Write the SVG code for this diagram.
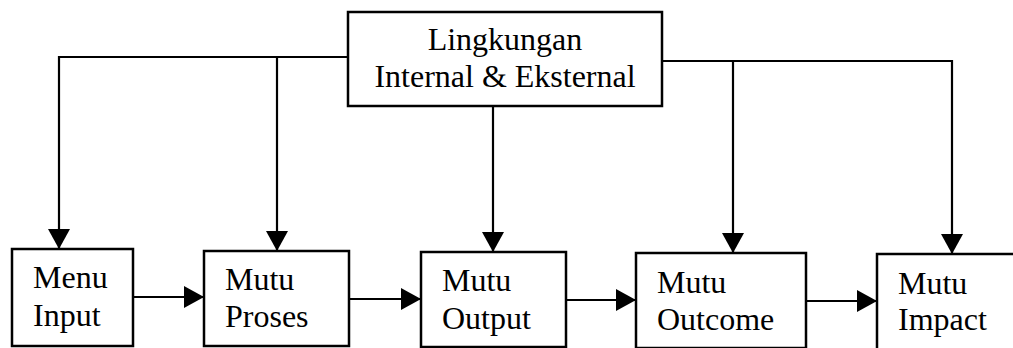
<svg xmlns="http://www.w3.org/2000/svg" width="1013" height="348" viewBox="0 0 1013 348">
  <style>
    .box { fill: #fff; stroke: #000; stroke-width: 2.5; }
    .lbl { font-family: "Liberation Serif", "Times New Roman", serif; font-size: 32px; fill: #000; }
    .wire { fill: none; stroke: #000; stroke-width: 2.2; }
  </style>
  <defs>
    <marker id="head" viewBox="0 0 20 22" markerWidth="20" markerHeight="22" refX="20" refY="11" orient="auto" markerUnits="userSpaceOnUse">
      <path d="M0,0 L20,11 L0,22 z" fill="#000"/>
    </marker>
  </defs>

  <rect width="1013" height="348" fill="#fff"/>

  <!-- connectors -->
  <g id="connectors" class="wire">
    <!-- environment feeds -->
    <polyline points="348,57 59,57 59,249" marker-end="url(#head)"/>
    <line x1="277" y1="57" x2="277" y2="251" marker-end="url(#head)"/>
    <line x1="493" y1="106" x2="493" y2="252" marker-end="url(#head)"/>
    <polyline points="662,61 952,61 952,254" marker-end="url(#head)"/>
    <line x1="733" y1="61" x2="733" y2="253" marker-end="url(#head)"/>
    <!-- quality chain -->
    <line x1="133" y1="297" x2="204" y2="297" marker-end="url(#head)"/>
    <line x1="349" y1="299" x2="421" y2="299" marker-end="url(#head)"/>
    <line x1="566" y1="300" x2="636" y2="300" marker-end="url(#head)"/>
    <line x1="806" y1="301" x2="877" y2="301" marker-end="url(#head)"/>
  </g>

  <g id="lingkungan">
    <rect class="box" x="348" y="12" width="314" height="94"/>
    <text class="lbl" x="505" y="50" text-anchor="middle">Lingkungan</text>
    <text class="lbl" x="505" y="87" text-anchor="middle">Internal &amp; Eksternal</text>
  </g>

  <g id="menu-input">
    <rect class="box" x="12" y="249" width="121" height="97"/>
    <text class="lbl" x="33" y="288">Menu</text>
    <text class="lbl" x="33" y="326">Input</text>
  </g>

  <g id="mutu-proses">
    <rect class="box" x="204" y="251" width="145" height="95"/>
    <text class="lbl" x="225" y="290">Mutu</text>
    <text class="lbl" x="225" y="327">Proses</text>
  </g>

  <g id="mutu-output">
    <rect class="box" x="421" y="252" width="145" height="95"/>
    <text class="lbl" x="442" y="291">Mutu</text>
    <text class="lbl" x="442" y="329">Output</text>
  </g>

  <g id="mutu-outcome">
    <rect class="box" x="636" y="253" width="170" height="95"/>
    <text class="lbl" x="657" y="293">Mutu</text>
    <text class="lbl" x="657" y="330">Outcome</text>
  </g>

  <g id="mutu-impact">
    <rect class="box" x="877" y="254" width="150" height="100"/>
    <text class="lbl" x="898" y="294">Mutu</text>
    <text class="lbl" x="898" y="330">Impact</text>
  </g>
</svg>
